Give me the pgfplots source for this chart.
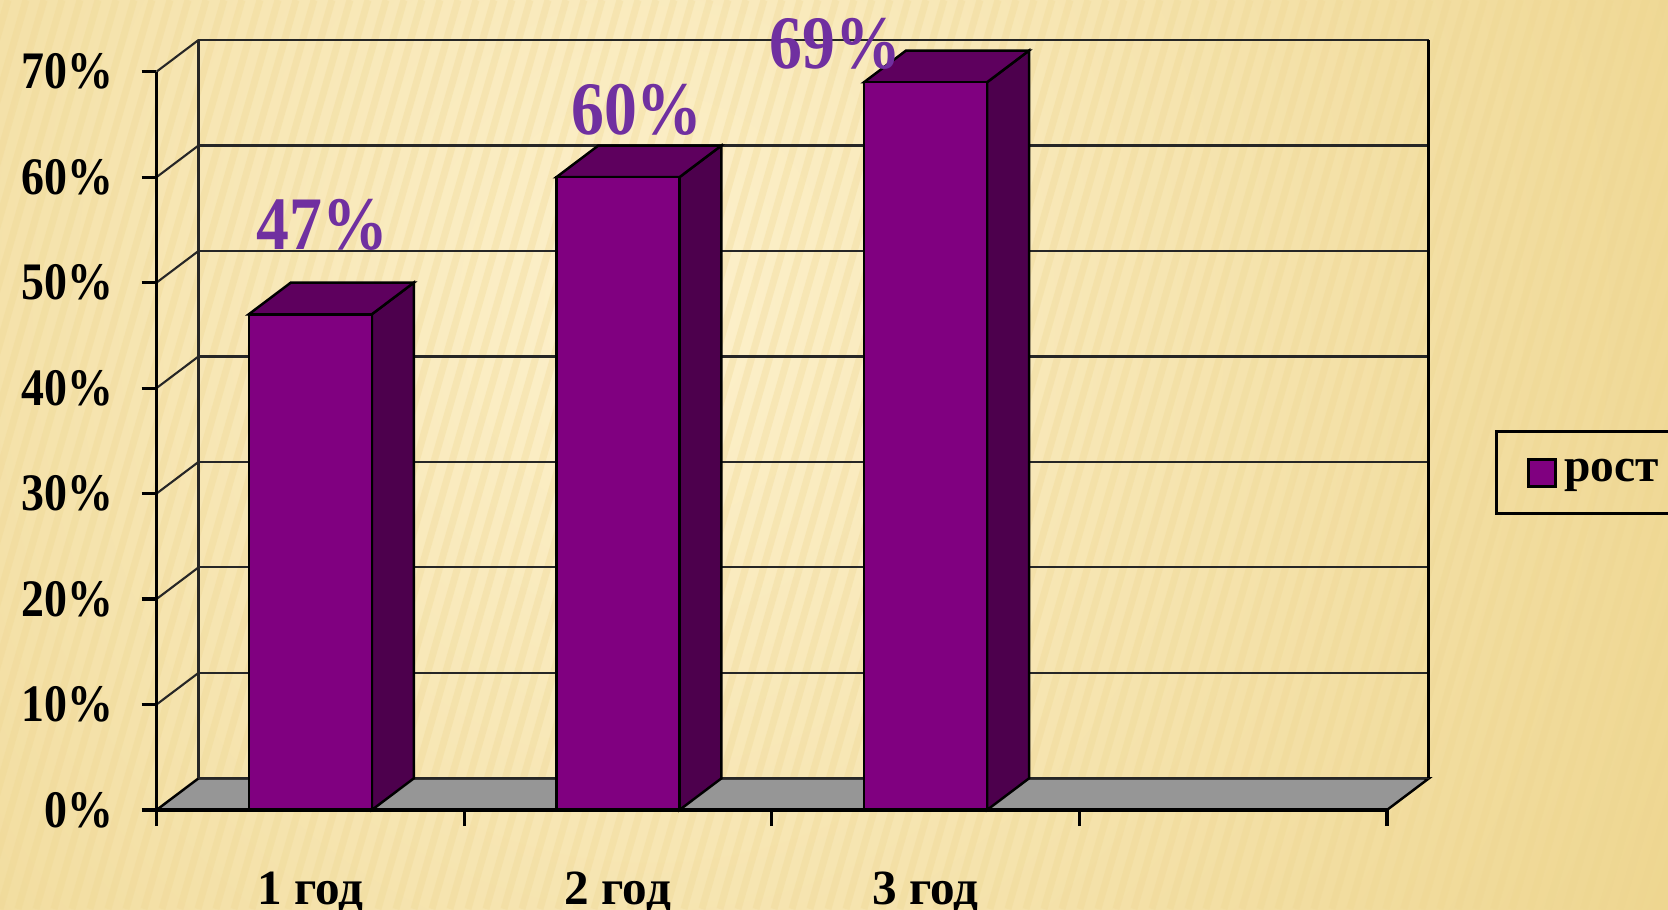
\documentclass[border=0pt]{standalone}
\usepackage{pgfplots}
\pgfplotsset{compat=1.18}
\usepackage{fontspec}
\setmainfont{Liberation Serif}
\newfontfamily\nfont[FakeStretch=0.87]{Liberation Serif}
\definecolor{barfront}{HTML}{800080}
\definecolor{bartop}{HTML}{5E005E}
\definecolor{barside}{HTML}{4D004D}
\definecolor{floorc}{HTML}{969696}
\definecolor{labc}{HTML}{7030A0}
\definecolor{bgA}{HTML}{FDF1CC}
\definecolor{bgB}{HTML}{EED690}
\begin{document}
\begin{tikzpicture}
\useasboundingbox (0,0) rectangle (16.68,9.09);
\begin{scope}
\clip (0,0) rectangle (16.68,9.09);
\shade[inner color=bgA, outer color=bgB] (-5,-7) rectangle (18,19);
\foreach \i in {-20,...,95} {\draw[bgB, opacity=0.3, line width=0.07cm] (\i*0.18,0) -- (\i*0.18+2.6,9.09);}
\end{scope}
\begin{axis}[
  at={(1.565cm,0.99cm)}, anchor=origin,
  x=3.076cm, y=0.10547cm,
  xmin=0, xmax=4, ymin=0, ymax=70,
  clip=false,
  axis line style={draw=none},
  tick align=outside,
  xtick pos=bottom, ytick pos=left,
  ytick={0,10,...,70},
  yticklabels={0\%,10\%,20\%,30\%,40\%,50\%,60\%,70\%},
  yticklabel style={font=\nfont\bfseries\fontsize{15}{18}\selectfont, anchor=east, inner sep=0pt, xshift=-0.275cm},
  xtick={0.5,1.5,2.5},
  xticklabels={1 год,2 год,3 год},
  xticklabel style={font=\bfseries\fontsize{14}{17}\selectfont, anchor=north, inner sep=0pt, yshift=-0.46cm},
  major x tick style={draw=none},
  minor xtick={0,1,2,3,4},
  major tick length=0.15cm, minor tick length=0.16cm,
  tick style={black, line width=0.9pt},
  legend style={at={(1.0892,0.5124)}, anchor=north west, draw=none, fill=none,
    font=\bfseries\fontsize{13.5}{16}\selectfont, inner xsep=0.3cm, inner ysep=0.2cm, cells={anchor=west}},
  gl/.style={black!85, line width=0.6pt},
  face/.style={draw=black, line width=0.7pt},
]
\addlegendimage{legend image code/.code={\draw[fill=barfront, draw=black, line width=0.8pt] (0cm,-0.135cm) rectangle (0.27cm,0.135cm);}}
\addlegendentry{рост}
% floor
\addplot[fill=floorc, face] coordinates {(0,0) (4,0) (4.1365,3) (0.1365,3)} -- cycle;
% back wall gridlines
\addplot[gl] coordinates {(0.1365,3) (4.1365,3)};
\addplot[gl] coordinates {(0.1365,13) (4.1365,13)};
\addplot[gl] coordinates {(0.1365,23) (4.1365,23)};
\addplot[gl] coordinates {(0.1365,33) (4.1365,33)};
\addplot[gl] coordinates {(0.1365,43) (4.1365,43)};
\addplot[gl] coordinates {(0.1365,53) (4.1365,53)};
\addplot[gl] coordinates {(0.1365,63) (4.1365,63)};
\addplot[gl] coordinates {(0.1365,73) (4.1365,73)};
% left wall diagonals
\addplot[gl] coordinates {(0,10) (0.1365,13)};
\addplot[gl] coordinates {(0,20) (0.1365,23)};
\addplot[gl] coordinates {(0,30) (0.1365,33)};
\addplot[gl] coordinates {(0,40) (0.1365,43)};
\addplot[gl] coordinates {(0,50) (0.1365,53)};
\addplot[gl] coordinates {(0,60) (0.1365,63)};
\addplot[gl] coordinates {(0,70) (0.1365,73)};
% wall verticals
\addplot[gl] coordinates {(0.1365,3) (0.1365,73)};
\addplot[black, line width=0.9pt] coordinates {(4.1365,3) (4.1365,73)};
% bar 1 (47)
\addplot[fill=barside, face] coordinates {(0.7,0) (0.8365,3) (0.8365,50) (0.7,47)} -- cycle;
\addplot[fill=bartop, face] coordinates {(0.3,47) (0.4365,50) (0.8365,50) (0.7,47)} -- cycle;
% bar 2 (60)
\addplot[fill=barside, face] coordinates {(1.7,0) (1.8365,3) (1.8365,63) (1.7,60)} -- cycle;
\addplot[fill=bartop, face] coordinates {(1.3,60) (1.4365,63) (1.8365,63) (1.7,60)} -- cycle;
% bar 3 (69)
\addplot[fill=barside, face] coordinates {(2.7,0) (2.8365,3) (2.8365,72) (2.7,69)} -- cycle;
\addplot[fill=bartop, face] coordinates {(2.3,69) (2.4365,72) (2.8365,72) (2.7,69)} -- cycle;
% front faces
\addplot[ybar, bar width=0.4, fill=barfront, face] coordinates {(0.5,47) (1.5,60) (2.5,69)};
% front axis lines
\addplot[black, line width=1pt] coordinates {(0,70) (0,0) (4,0)};
% legend frame (open on the right, running past the page edge)
\draw[black, line width=0.9pt] (axis description cs:1.35,0.5124) -- (axis description cs:1.0892,0.5124)
  -- (axis description cs:1.0892,0.4019) -- (axis description cs:1.35,0.4019);
% value labels
\node[labc, font=\nfont\bfseries\fontsize{21.5}{24}\selectfont, anchor=base] at (axis cs:0.540,53.1) {47\%};
\node[labc, font=\nfont\bfseries\fontsize{21.5}{24}\selectfont, anchor=base] at (axis cs:1.562,64.0) {60\%};
\node[labc, font=\nfont\bfseries\fontsize{21.5}{24}\selectfont, anchor=base] at (axis cs:2.206,70.3) {69\%};
\end{axis}
\end{tikzpicture}
\end{document}
